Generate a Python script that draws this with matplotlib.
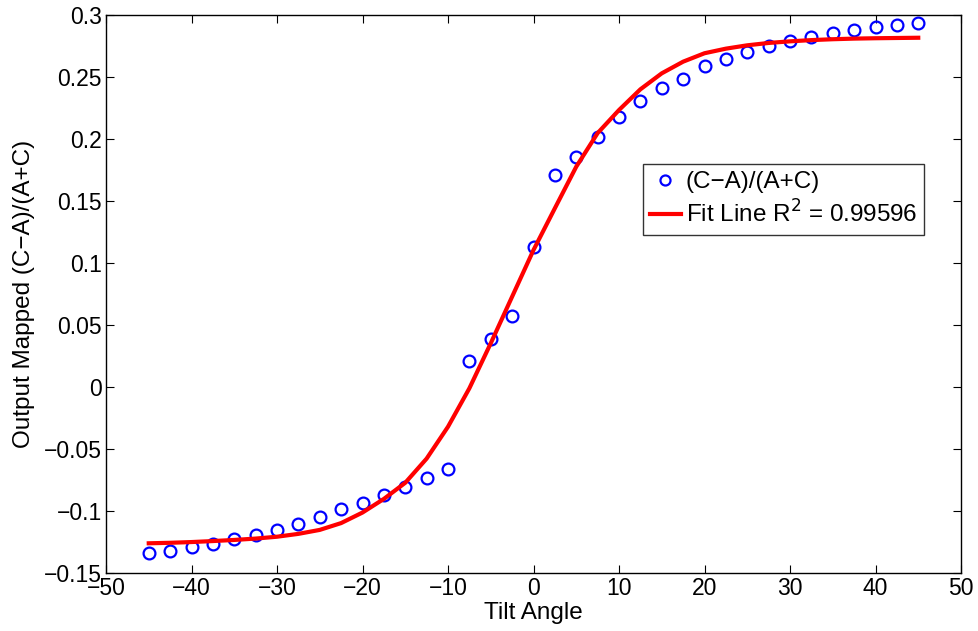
import matplotlib
matplotlib.use("Agg")
import matplotlib.pyplot as plt
import numpy as np

plt.rcParams['font.family'] = ['Liberation Sans', 'DejaVu Sans']

angles = [-45, -42.5, -40, -37.5, -35, -32.5, -30, -27.5, -25, -22.5, -20, -17.5,
          -15, -12.5, -10, -7.5, -5, -2.5, 0, 2.5, 5, 7.5, 10, 12.5, 15, 17.5,
          20, 22.5, 25, 27.5, 30, 32.5, 35, 37.5, 40, 42.5, 45]

measured = [-0.1334, -0.1320, -0.1288, -0.1261, -0.1226, -0.1191, -0.1148, -0.1100,
            -0.1049, -0.0984, -0.0931, -0.0869, -0.0808, -0.0734, -0.0657, 0.0210,
            0.0387, 0.0577, 0.1131, 0.1710, 0.1855, 0.2020, 0.2177, 0.2309, 0.2411,
            0.2489, 0.2589, 0.2645, 0.2702, 0.2752, 0.2790, 0.2823, 0.2855, 0.2881,
            0.2906, 0.2922, 0.2940]

fit = [-0.1258, -0.1254, -0.1248, -0.1240, -0.1231, -0.1220, -0.1205, -0.1182,
       -0.1150, -0.1095, -0.1010, -0.0900, -0.0770, -0.0575, -0.0318, -0.0008,
       0.0355, 0.0731, 0.1107, 0.1444, 0.1779, 0.2050, 0.2236, 0.2403, 0.2532,
       0.2626, 0.2694, 0.2731, 0.2758, 0.2777, 0.2790, 0.2800, 0.2807, 0.2812,
       0.2815, 0.2817, 0.2819]

xticks = [-50, -40, -30, -20, -10, 0, 10, 20, 30, 40, 50]
yticks = [-0.15, -0.1, -0.05, 0, 0.05, 0.1, 0.15, 0.2, 0.25, 0.3]
ytick_labels = ['\u22120.15', '\u22120.1', '\u22120.05', '0', '0.05', '0.1', '0.15', '0.2', '0.25', '0.3']
xtick_labels = ['\u221250', '\u221240', '\u221230', '\u221220', '\u221210', '0', '10', '20', '30', '40', '50']

fig = plt.figure(figsize=(9.79, 6.31), dpi=100)
ax = fig.add_axes([106/979, 1 - 573.3/631, (961 - 106)/979, (573.3 - 15.3)/631])

ax.plot(angles, measured, linestyle='none', marker='o', markersize=8.5,
        markerfacecolor='none', markeredgecolor='#0000ff', markeredgewidth=1.6,
        label='(C\u2212A)/(A+C)')
ax.plot(angles, fit, color='#ff0000', linewidth=3, label='Fit Line R$^2$ = 0.99596')

ax.set_xlim(-50, 50)
ax.set_ylim(-0.15, 0.3)
ax.set_xticks(xticks)
ax.set_xticklabels(xtick_labels)
ax.set_yticks(yticks)
ax.set_yticklabels(ytick_labels)
ax.tick_params(direction='in', top=True, right=True, length=6, width=0.8,
               labelsize=16.5, pad=3)
for s in ax.spines.values():
    s.set_linewidth(1.0)

ax.set_xlabel('Tilt Angle', fontsize=17.5, labelpad=1)
ax.set_ylabel('Output Mapped (C\u2212A)/(A+C)', fontsize=17.5, labelpad=6)

leg = ax.legend(loc='upper left', bbox_to_anchor=((643 - 106)/855, 1 - (164 - 15.3)/558),
                fontsize=17.5, frameon=True, fancybox=False, edgecolor='black',
                borderpad=0.3, handlelength=1.25, handletextpad=0.2, labelspacing=0.3,
                borderaxespad=0, markerscale=0.85)
leg.get_frame().set_linewidth(1.0)

fig.savefig('out.png', dpi=100)
